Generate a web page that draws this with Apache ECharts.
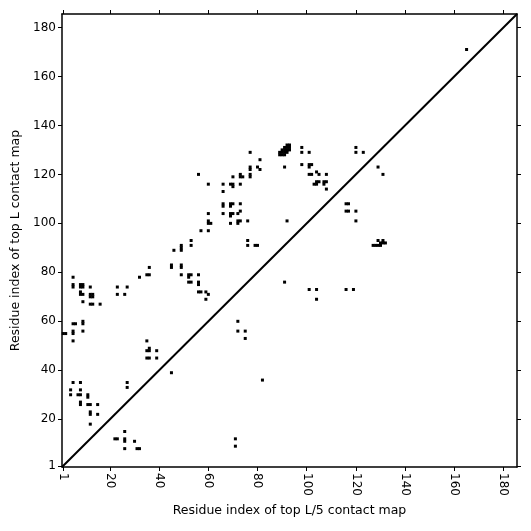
<!DOCTYPE html>
<html>
<head>
    <meta charset="utf-8">
    <title>Contact map</title>
    <script src="https://cdn.jsdelivr.net/npm/echarts@6/dist/echarts.min.js"></script>
</head>
<body style="margin:0">
<div id="main" style="width:531px;height:531px;"></div>
<script type="text/javascript">
    // residue pairs above the diagonal
    var upperContacts = [
        [5,35],[8,35],[4,32],[4,30],[8,32],[7,30],[8,30],[11,29],[11,30],[8,27],[8,26],
        [11,26],[12,26],[15,26],[12,23],[12,22],[15,22],[12,18],[27,35],[27,33],[35,45],[36,45],[39,45],
        [36,82],[32,78],[35,79],[36,79],[5,78],[5,75],[5,74],[8,75],[9,75],[8,74],[9,74],
        [8,72],[8,71],[9,71],[12,74],[12,71],[13,71],[12,70],[13,70],[9,68],[12,67],[13,67],[16,67],
        [23,74],[27,74],[23,71],[26,71],[5,59],[6,59],[9,60],[9,59],[5,56],[5,55],[9,56],[1,55],[2,55],
        [5,52],[35,52],[36,49],[35,48],[36,48],[39,48],
        [46,89],[49,89],[49,90],[49,91],[53,91],[53,93],[45,82],[45,83],[49,82],[49,83],[49,79],
        [52,79],[53,79],[52,78],[52,76],[53,76],[56,79],[56,76],[56,75],[56,72],[57,72],[59,72],[60,71],[59,69],
        [77,129],[81,126],[77,123],[77,122],[80,123],[81,122],[77,120],[77,119],[73,120],[74,119],[73,119],
        [70,119],[56,120],[60,116],[66,116],[69,116],[70,115],[70,116],[73,116],[66,113],
        [66,108],[66,107],[69,108],[70,108],[69,107],[73,108],[60,104],[66,104],[69,104],[69,103],[70,104],
        [72,104],[73,105],[60,101],[60,100],[61,100],[69,100],[72,100],[72,101],[73,101],[76,101],
        [57,97],[60,97],[76,93],[76,91],[79,91],[80,91],
        [89,128],[90,128],[91,128],[89,129],[90,129],[91,129],[92,129],[90,130],[91,130],[92,130],[93,130],
        [91,131],[92,131],[93,131],[92,132],[93,132],
        [98,131],[98,129],[101,129],[120,131],[120,129],[123,129],[91,123],[98,124],[101,124],[102,124],[101,123],
        [101,120],[102,120],[104,121],[105,120],[108,120],[104,117],[104,116],[105,117],[103,116],
        [107,117],[108,117],[107,116],[108,114],[92,101],[131,120],[165,171]
    ];
    // residue pairs below the diagonal
    var lowerContacts = [
        [26,15],[22,12],[23,12],[26,12],[26,11],[30,11],[26,8],[31,8],[32,8],
        [72,60],[72,56],[75,56],[75,53],[45,39],[82,36],[71,12],[71,9],
        [91,76],[101,73],[104,73],[104,69],[116,73],[119,73],
        [116,108],[117,108],[116,105],[117,105],[120,105],[120,101],[129,123],
        [127,91],[128,91],[129,91],[130,91],[130,92],[131,92],[132,92],[129,93],[131,93]
    ];
    var tickValues = [1, 20, 40, 60, 80, 100, 120, 140, 160, 180];
    var axisMin = 0.5, axisMax = 185.5;

    var myChart = echarts.init(document.getElementById('main'));

    var font = 'DejaVu Sans';
    function mainAxis(name, rotate, gap) {
        return {
            type: 'value', min: axisMin, max: axisMax,
            name: name, nameLocation: 'middle', nameGap: gap,
            nameTextStyle: {color: '#000', fontSize: 12.5, fontFamily: font},
            axisLine: {lineStyle: {color: '#000', width: 1.5}},
            axisTick: {show: true, length: 4, customValues: tickValues, lineStyle: {color: '#000'}},
            axisLabel: {customValues: tickValues, color: '#000', fontSize: 12, fontFamily: font, rotate: rotate, margin: 6},
            splitLine: {show: false}
        };
    }
    function mirrorAxis(pos) {
        return {
            type: 'value', min: axisMin, max: axisMax, position: pos,
            axisLine: {lineStyle: {color: '#000', width: 1.5}},
            axisTick: {show: true, length: 4, customValues: tickValues, lineStyle: {color: '#000'}},
            axisLabel: {show: false},
            splitLine: {show: false}
        };
    }

    var option = {
        backgroundColor: '#fff',
        animation: false,
        grid: {left: 62, right: 14, top: 14, bottom: 64},
        xAxis: [mainAxis('Residue index of top L/5 contact map', -90, 32), mirrorAxis('top')],
        yAxis: [mainAxis('Residue index of top L contact map', 0, 30), mirrorAxis('right')],
        series: [
            {
                type: 'line',
                data: [[axisMin, axisMin], [axisMax, axisMax]],
                symbol: 'none',
                lineStyle: {color: '#000', width: 2}
            },
            {
                type: 'scatter',
                data: upperContacts.concat(lowerContacts),
                symbol: 'rect',
                symbolSize: 3,
                itemStyle: {color: '#000', opacity: 1}
            }
        ]
    };

    myChart.setOption(option);
</script>
</body>
</html>
